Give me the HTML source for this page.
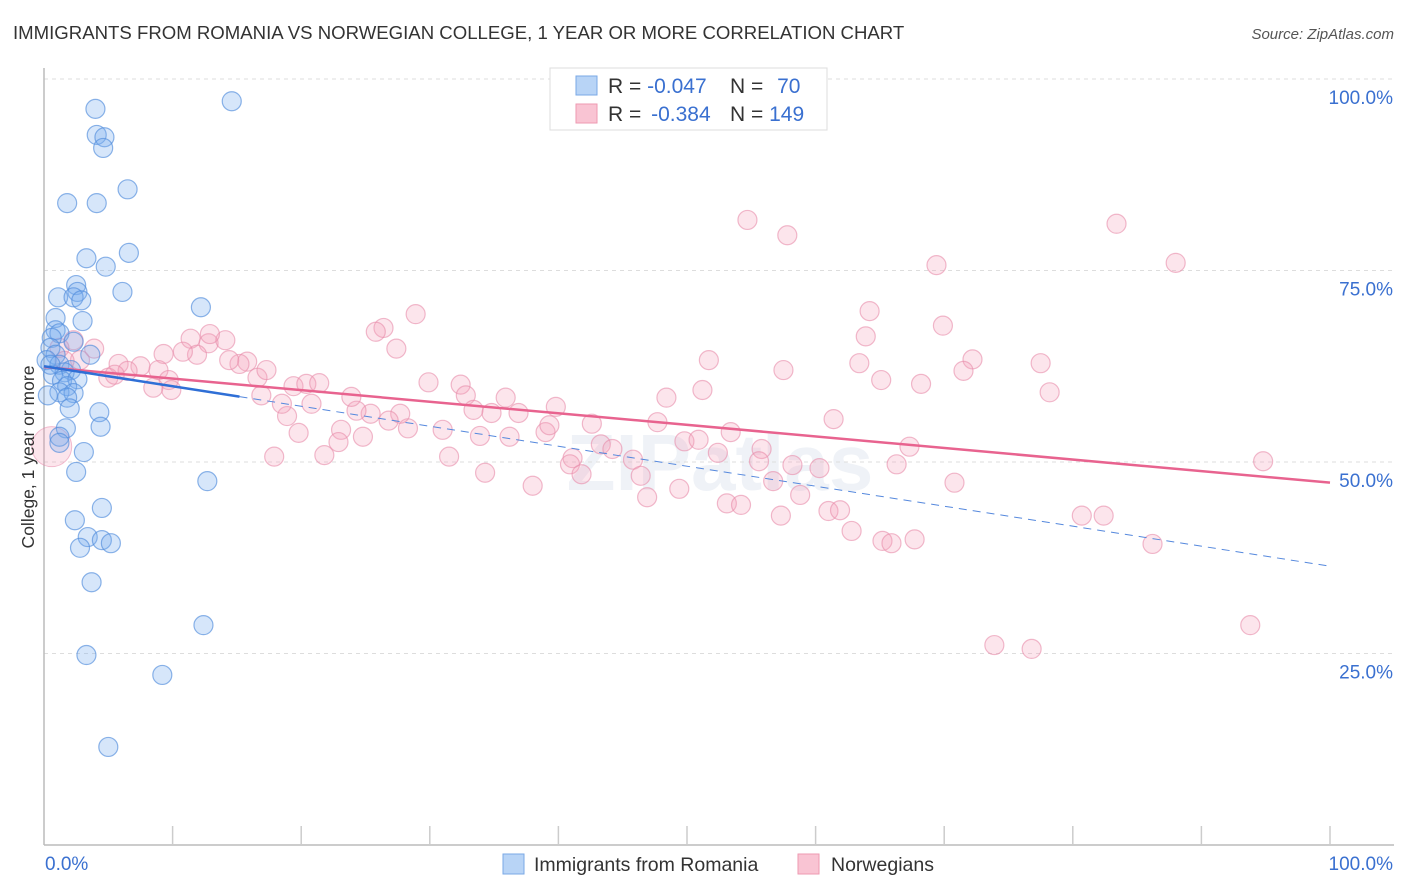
<!DOCTYPE html>
<html><head><meta charset="utf-8"><style>
body{margin:0;background:#fff;font-family:"Liberation Sans",sans-serif;}
svg{display:block}
</style></head><body>
<svg id="chart" width="1406" height="892" viewBox="0 0 1406 892" xmlns="http://www.w3.org/2000/svg">
<text x="13" y="39" font-size="18.6" fill="#333">IMMIGRANTS FROM ROMANIA VS NORWEGIAN COLLEGE, 1 YEAR OR MORE CORRELATION CHART</text>
<text x="1394" y="39" font-size="15" fill="#555" font-style="italic" text-anchor="end">Source: ZipAtlas.com</text>
<text x="720" y="490" font-size="80" font-weight="bold" fill="#e6ebf2" text-anchor="middle" opacity="0.6">ZIPatlas</text>
<g id="grid"></g>
<g id="axes"></g>
<g id="pink"></g>
<g id="blue"></g>
<g id="lines"></g>
<text transform="translate(34,457) rotate(-90)" font-size="17.5" fill="#333" text-anchor="middle">College, 1 year or more</text>
<g>
<rect x="550" y="68" width="277" height="62" fill="#fff" stroke="#ddd"/>
<rect x="576" y="76" width="21" height="19" fill="#b8d4f6" stroke="#7aa8e6"/>
<rect x="576" y="104" width="21" height="19" fill="#f9c4d3" stroke="#ee9ab2"/>
<text x="608" y="93" font-size="21" fill="#333">R = <tspan fill="#3a70d0">-0.047</tspan></text>
<text x="730" y="93" font-size="21" fill="#333">N = <tspan fill="#3a70d0" dx="8">70</tspan></text>
<text x="608" y="121" font-size="21" fill="#333">R = <tspan fill="#3a70d0" dx="4">-0.384</tspan></text>
<text x="730" y="121" font-size="21" fill="#333">N = <tspan fill="#3a70d0">149</tspan></text>
</g>
<g>
<rect x="503" y="854" width="21" height="20" fill="#b8d4f6" stroke="#7aa8e6"/>
<text x="534" y="871" font-size="19.5" fill="#333">Immigrants from Romania</text>
<rect x="798" y="854" width="21" height="20" fill="#f9c4d3" stroke="#ee9ab2"/>
<text x="831" y="871" font-size="19.5" fill="#333">Norwegians</text>
</g>
</svg>
<script>
const blueX=[4.0,14.6,4.1,4.7,4.6,6.5,1.8,4.1,6.6,3.3,4.8,2.5,2.6,6.1,1.1,2.3,2.9,12.2,3.0,0.9,0.9,1.2,0.6,2.3,0.5,3.6,0.9,0.2,1.2,2.1,1.6,0.7,1.4,2.6,1.8,1.2,2.3,1.8,2.0,4.3,4.4,1.7,1.2,1.2,3.1,2.5,12.7,4.5,2.4,3.4,4.5,5.2,2.8,3.7,12.4,3.3,9.2,5.0,0.3,0.5];
const blueY=[96.1,97.1,92.7,92.4,91.0,85.6,83.8,83.8,77.3,76.6,75.5,73.1,72.2,72.2,71.5,71.5,71.1,70.2,68.4,68.8,67.2,66.8,66.2,65.7,64.9,64.0,64.0,63.3,62.7,62.0,61.7,61.4,60.6,60.8,59.9,59.1,59.0,58.4,57.0,56.5,54.6,54.4,53.3,52.5,51.3,48.7,47.5,44.0,42.4,40.2,39.8,39.4,38.8,34.3,28.7,24.8,22.2,12.8,58.7,62.7];
const pinkX=[54.7,57.8,83.4,88.0,69.4,64.2,69.9,63.9,28.9,26.4,25.8,27.4,72.2,77.5,51.7,57.5,63.4,71.5,65.1,68.2,78.2,29.9,32.4,32.8,35.9,33.4,34.8,36.9,39.8,48.4,51.2,47.7,42.6,61.4,53.4,49.8,50.9,43.3,44.2,45.8,41.1,40.9,41.8,46.4,46.9,49.4,52.4,55.8,55.6,58.2,60.3,56.7,58.8,53.1,54.2,57.3,61.0,61.9,62.8,65.2,65.9,67.7,66.3,67.3,70.8,94.8,80.7,82.4,86.2,93.8,73.9,76.8,38.0,34.3,31.5,31.0,33.9,36.2,39.0,39.3,28.3,27.7,26.8,25.4,24.3,24.8,23.1,23.9,22.9,21.8,20.8,19.8,18.9,18.5,19.4,20.4,21.4,17.9,16.9,16.6,17.3,15.8,15.2,14.4,12.8,14.1,12.9,11.4,11.9,10.8,9.3,8.9,9.7,8.5,9.9,7.5,5.8,6.5,5.0,5.5,3.9,2.3,2.8,1.2,1.6];
const pinkY=[81.6,79.6,81.1,76.0,75.7,69.7,67.8,66.4,69.3,67.5,67.0,64.8,63.4,62.9,63.3,62.0,62.9,61.9,60.7,60.2,59.1,60.4,60.1,58.7,58.4,56.8,56.4,56.4,57.2,58.4,59.4,55.2,55.0,55.6,53.9,52.7,52.9,52.3,51.7,50.3,50.5,49.7,48.4,48.2,45.4,46.5,51.2,51.7,50.1,49.6,49.2,47.5,45.7,44.6,44.4,43.0,43.6,43.7,41.0,39.7,39.4,39.9,49.7,52.0,47.3,50.1,43.0,43.0,39.3,28.7,26.1,25.6,46.9,48.6,50.7,54.2,53.4,53.3,53.9,54.8,54.4,56.3,55.4,56.3,56.7,53.3,54.2,58.5,52.6,50.9,57.6,53.8,56.0,57.6,59.9,60.2,60.3,50.7,58.7,61.0,62.0,63.1,62.8,63.3,65.5,65.9,66.7,66.1,64.0,64.4,64.1,62.0,60.7,59.7,59.4,62.5,62.8,61.9,61.0,61.4,64.8,65.9,63.3,64.9,63.2];
const bigPinkX=[0.6], bigPinkY=[52.0];
const pinkTrend=[62.4,47.3];
const blueTrend=[62.5,36.4];
const blueSolidEnd=15.2;
const yTicks=[25,50,75,100];
const yTickLabels=["25.0%","50.0%","75.0%","100.0%"];
const xTicks=[10,20,30,40,50,60,70,80,90,100];

const NS="http://www.w3.org/2000/svg";
const X0=44,X1=1330,Y0=845,Y1=79;
const sx=v=>X0+(X1-X0)*v/100;
const sy=v=>Y0-(Y0-Y1)*v/100;
function mk(tag,attrs,parent){const e=document.createElementNS(NS,tag);for(const k in attrs)e.setAttribute(k,attrs[k]);parent.appendChild(e);return e;}
const grid=document.getElementById('grid'),axes=document.getElementById('axes');
yTicks.forEach((t,i)=>{
  const l=mk('line',{x1:X0,x2:1394,y1:sy(t),y2:sy(t),stroke:'#ddd','stroke-dasharray':'4,4'},grid);
  
  
  const tx=mk('text',{x:1393,y:sy(t)+25,'font-size':19,fill:'#3a70d0','text-anchor':'end'},axes);
  tx.textContent=yTickLabels[i];
  
  
});
mk('line',{x1:X0,x2:X0,y1:68,y2:Y0,stroke:'#bbb','stroke-width':1.5},axes);
mk('line',{x1:X0,x2:1394,y1:Y0,y2:Y0,stroke:'#bbb','stroke-width':1.5},axes);
xTicks.forEach(t=>{
  const l=mk('line',{x1:sx(t),x2:sx(t),y1:826,y2:Y0,stroke:'#ccc','stroke-width':1.5},axes);
  
  
});
const xl0=mk('text',{x:45,y:870,'font-size':19,fill:'#3a70d0'},axes);xl0.textContent='0.0%';


const xl1=mk('text',{x:1393,y:870,'font-size':19,fill:'#3a70d0','text-anchor':'end'},axes);xl1.textContent='100.0%';



const pg=document.getElementById('pink'),bg=document.getElementById('blue');
bigPinkX.forEach((x,i)=>{
  const c=mk('circle',{cx:sx(x),cy:sy(bigPinkY[i]),r:20,fill:'rgba(242,150,178,0.25)',stroke:'rgba(232,130,165,0.5)'},pg);
  
  
});
pinkX.forEach((x,i)=>{
  const c=mk('circle',{cx:sx(x),cy:sy(pinkY[i]),r:9.5,fill:'rgba(244,160,186,0.28)',stroke:'rgba(232,140,170,0.6)','stroke-width':1.2},pg);
  
  
});
blueX.forEach((x,i)=>{
  const c=mk('circle',{cx:sx(x),cy:sy(blueY[i]),r:9.5,fill:'rgba(120,172,238,0.3)',stroke:'rgba(80,140,220,0.65)','stroke-width':1.2},bg);
  
  
});
const lg=document.getElementById('lines');
const by=x=>blueTrend[0]+(blueTrend[1]-blueTrend[0])*x/100;
const pl=mk('line',{x1:sx(0),y1:sy(pinkTrend[0]),x2:sx(100),y2:sy(pinkTrend[1]),stroke:'#e8638f','stroke-width':2.5},lg);


const bl=mk('line',{x1:sx(0),y1:sy(by(0)),x2:sx(blueSolidEnd),y2:sy(by(blueSolidEnd)),stroke:'#2f6fd6','stroke-width':2.5},lg);


const bd=mk('line',{x1:sx(blueSolidEnd),y1:sy(by(blueSolidEnd)),x2:sx(100),y2:sy(by(100)),stroke:'#5588dd','stroke-width':1,'stroke-dasharray':'8,6'},lg);


</script>
</body></html>
